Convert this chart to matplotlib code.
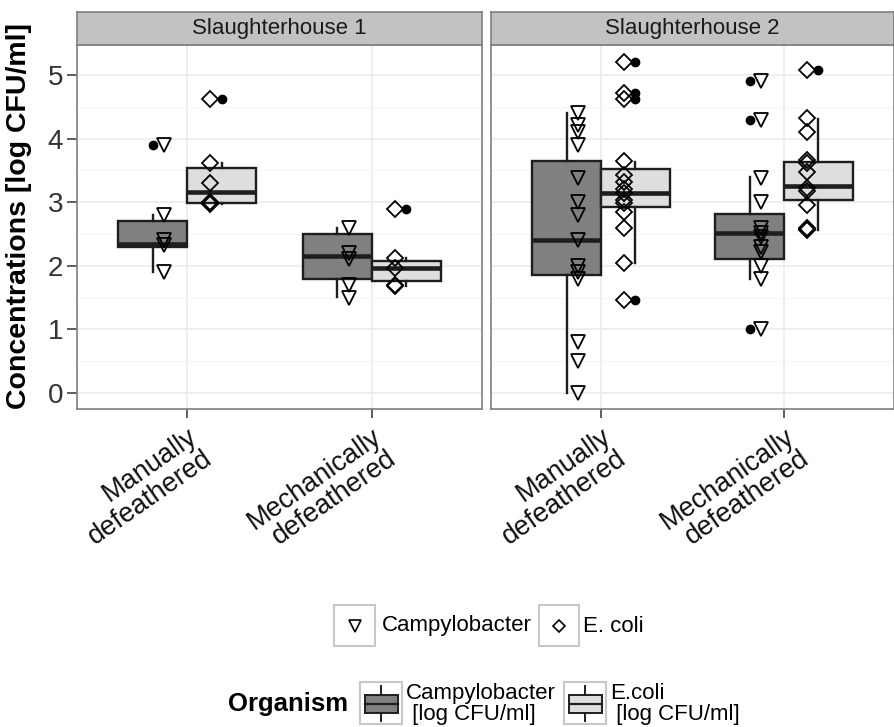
import matplotlib
matplotlib.use("Agg")
import matplotlib.pyplot as plt
from matplotlib.patches import Rectangle

plt.rcParams['font.family'] = ['Liberation Sans', 'DejaVu Sans']

# ---- data ----
slaughterhouses = ["Slaughterhouse 1", "Slaughterhouse 2"]
methods = ["Manually\ndefeathered", "Mechanically\ndefeathered"]

# box stats [slaughterhouse][method]
campy_whislo = [[1.91, 1.51], [0.00, 1.80]]
campy_q1 = [[2.30, 1.80], [1.85, 2.10]]
campy_med = [[2.35, 2.15], [2.41, 2.51]]
campy_q3 = [[2.70, 2.50], [3.65, 2.81]]
campy_whishi = [[2.80, 2.59], [4.40, 3.40]]
campy_fliers = [[[3.9], []], [[], [4.9, 4.3, 1.0]]]

ecoli_whislo = [[2.97, 1.68], [2.04, 2.56]]
ecoli_q1 = [[2.98, 1.76], [2.92, 3.03]]
ecoli_med = [[3.16, 1.97], [3.15, 3.26]]
ecoli_q3 = [[3.54, 2.08], [3.52, 3.63]]
ecoli_whishi = [[3.61, 2.12], [3.64, 4.31]]
ecoli_fliers = [[[4.62], [2.9]], [[5.2, 4.71, 4.63, 1.46], [5.08]]]

# individual samples
campy_pts = [
    [[3.9, 2.8, 2.4, 2.32, 1.9],
     [2.6, 2.2, 2.1, 1.7, 1.5]],
    [[4.4, 4.22, 4.1, 3.9, 3.38, 3.0, 2.8, 2.4, 2.0, 1.9, 1.8, 0.8, 0.5, 0.0],
     [4.9, 4.3, 3.38, 3.0, 2.6, 2.52, 2.45, 2.3, 2.22, 2.0, 1.8, 1.0]],
]
ecoli_pts = [
    [[4.62, 3.62, 3.3, 3.0, 2.98, 2.97],
     [2.9, 2.12, 1.97, 1.7, 1.68]],
    [[5.2, 4.71, 4.63, 3.65, 3.43, 3.32, 3.2, 3.15, 3.03, 2.98, 2.85, 2.6, 2.04, 1.46],
     [5.08, 4.32, 4.11, 3.66, 3.61, 3.48, 3.22, 3.17, 2.96, 2.6, 2.58, 2.56]],
]

campy_fill = '#808080'
ecoli_fill = '#dedede'
dark = '#1e1e1e'

W, H = 894, 727
fig = plt.figure(figsize=(W / 100, H / 100), dpi=100)


def px_axes(x0, y0, x1, y1):
    return fig.add_axes([x0 / W, 1 - y1 / H, (x1 - x0) / W, (y1 - y0) / H])


def stats(wl, q1, md, q3, wh, fl, s, m):
    return dict(whislo=wl[s][m], q1=q1[s][m], med=md[s][m], q3=q3[s][m],
                whishi=wh[s][m], fliers=fl[s][m])


panels = [(77, 482), (491, 894)]
xpos = [1, 2]

for s, (x0, x1) in enumerate(panels):
    ax = px_axes(x0, 45, x1, 409)
    strip = px_axes(x0, 12, x1, 45)

    ax.set_xlim(0.4, 2.6)
    ax.set_ylim(-0.252, 5.472)
    ax.set_axisbelow(True)
    ax.set_yticks(range(6))
    ax.set_yticks([0.5, 1.5, 2.5, 3.5, 4.5], minor=True)
    ax.grid(which='major', color='#ebebeb', lw=1.1)
    ax.grid(which='minor', axis='y', color='#f5f5f5', lw=0.7)
    for sp in ax.spines.values():
        sp.set_color('#7f7f7f')
        sp.set_linewidth(1.2)

    for m, p in enumerate(xpos):
        bp_kw = dict(widths=0.375, patch_artist=True, showcaps=False,
                     boxprops=dict(edgecolor=dark, linewidth=1.7),
                     medianprops=dict(color=dark, linewidth=3.3),
                     whiskerprops=dict(color=dark, linewidth=1.7),
                     flierprops=dict(marker='o', markerfacecolor='black',
                                     markeredgecolor='black', markersize=6))
        b1 = ax.bxp([stats(campy_whislo, campy_q1, campy_med, campy_q3,
                           campy_whishi, campy_fliers, s, m)],
                    positions=[p - 0.1875], **bp_kw)
        b1['boxes'][0].set_facecolor(campy_fill)
        b2 = ax.bxp([stats(ecoli_whislo, ecoli_q1, ecoli_med, ecoli_q3,
                           ecoli_whishi, ecoli_fliers, s, m)],
                    positions=[p + 0.1875], **bp_kw)
        b2['boxes'][0].set_facecolor(ecoli_fill)

        cy = campy_pts[s][m]
        ey = ecoli_pts[s][m]
        ax.plot([p - 0.125] * len(cy), cy, ls='none', marker='v', ms=10,
                mfc='none', mec='black', mew=1.3, zorder=5)
        ax.plot([p + 0.125] * len(ey), ey, ls='none', marker='D', ms=8,
                mfc='none', mec='black', mew=1.3, zorder=5)

    ax.set_xticks(xpos)
    ax.set_xticklabels(methods, rotation=35, ha='right', va='top',
                       rotation_mode='anchor', multialignment='right',
                       fontsize=19.5, color='#111111', linespacing=1.0)
    ax.tick_params(axis='x', length=6.5, width=1.1, color='#333333', pad=4)
    ax.tick_params(axis='y', which='major', length=7, width=1.1,
                   color='#333333', labelsize=20, labelcolor='#333333', pad=3)
    ax.tick_params(axis='y', which='minor', length=0)
    ax.set_xlabel('')
    if s == 1:
        ax.tick_params(axis='y', left=False, labelleft=False)

    strip.set_xticks([])
    strip.set_yticks([])
    strip.set_facecolor('#c2c2c2')
    for sp in strip.spines.values():
        sp.set_color('#7f7f7f')
        sp.set_linewidth(1.2)
    strip.text(0.5, 0.5, slaughterhouses[s], ha='center', va='center',
               fontsize=16, color='#1a1a1a', transform=strip.transAxes)

fig.text(19 / W, 1 - 216 / H, "Concentrations [log CFU/ml]", rotation=90,
         ha='center', va='center', fontsize=20.5, fontweight='bold')

# ---- legends, drawn in pixel space ----
lax = fig.add_axes([0, 0, 1, 1])
lax.set_xlim(0, W)
lax.set_ylim(H, 0)
lax.axis('off')

key_ec = '#c8c8c8'
lax.add_patch(Rectangle((334, 605), 41, 41, fc='white', ec=key_ec, lw=1.5))
lax.plot(354.5, 625.5, marker='v', ms=8, mfc='none', mec='black', mew=1.2)
lax.text(382, 626, "Campylobacter", va='center', fontsize=16)
lax.add_patch(Rectangle((539, 605), 40, 41, fc='white', ec=key_ec, lw=1.5))
lax.plot(559, 625.5, marker='D', ms=6, mfc='none', mec='black', mew=1.2)
lax.text(583, 626, "E. coli", va='center', fontsize=16)

lax.text(348, 704, "Organism", ha='right', va='center', fontsize=18.5,
         fontweight='bold')
box_keys = [(360, campy_fill, "Campylobacter\n [log CFU/ml]"),
            (564, ecoli_fill, "E.coli\n [log CFU/ml]")]
for kx, fc, lab in box_keys:
    lax.add_patch(Rectangle((kx, 682), 42, 42, fc='white', ec=key_ec, lw=1.5))
    cx = kx + 21
    lax.plot([cx, cx], [686, 695], color=dark, lw=1.4)
    lax.plot([cx, cx], [713, 721], color=dark, lw=1.4)
    lax.add_patch(Rectangle((kx + 4.5, 695), 33, 18, fc=fc, ec=dark, lw=1.4))
    lax.plot([kx + 4.5, kx + 37.5], [704, 704], color=dark, lw=1.6)
    lax.text(kx + 46, 704, lab, va='center', fontsize=16, linespacing=0.95)

fig.savefig("out.png", dpi=100)
